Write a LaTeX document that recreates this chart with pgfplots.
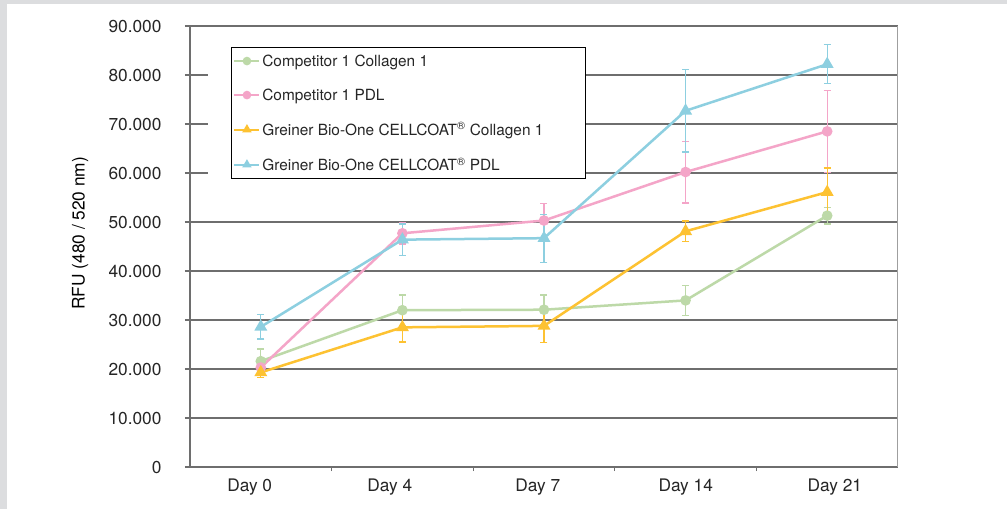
\documentclass[border=0pt]{standalone}
\usepackage{fontspec}
\setmainfont{TeX Gyre Heros}
\usepackage{pgfplots}
\pgfplotsset{compat=1.18}
\definecolor{cgreen}{HTML}{BDD9A8}
\definecolor{cpink}{HTML}{F4A5C8}
\definecolor{corange}{HTML}{FDC232}
\definecolor{cblue}{HTML}{8DCFE0}
\definecolor{gridc}{HTML}{6E6E6E}
\definecolor{bgc}{HTML}{DCDDDF}
\begin{document}
\begin{tikzpicture}
\useasboundingbox (-190pt,-42pt) rectangle (817pt,467pt);
\fill[bgc] (-190pt,-42pt) rectangle (817pt,467pt);
\fill[white] (-183pt,-42pt) rectangle (817pt,463pt);
\begin{axis}[
  scale only axis, width=708pt, height=441pt,
  xmin=-0.5, xmax=4.5, ymin=0, ymax=90000,
  axis x line*=bottom, axis y line*=left,
  axis line style={gridc, line width=1.1pt},
  xtick={-0.078,0.911,1.956,3.001,4.054},
  xticklabels={Day 0,Day 4,Day 7,Day 14,Day 21},
  major x tick style={draw=none},
  minor xtick={0.5,1.5,2.5,3.5},
  minor x tick style={gridc, line width=0.8pt},
  minor tick length=4pt,
  ytick={0,10000,...,90000},
  ymajorgrids,
  major grid style={gridc, line width=1.1pt},
  major y tick style={gridc, line width=1.1pt},
  tick align=outside, major tick length=5pt,
  scaled y ticks=false,
  /pgf/number format/.cd, 1000 sep={.}, assume math mode=true,
  /pgfplots/.cd,
  tick label style={font=\fontsize{17.3}{20}\selectfont, text=black!85},
  y tick label style={xshift=-20pt},
  x tick label style={yshift=-3pt},
  every axis y label/.style={at={(axis description cs:-0.155,0.53)}, rotate=90, anchor=center},
  ylabel={\fontsize{17.3}{20}\selectfont RFU (480 / 520 nm)},
  legend style={at={(axis description cs:0.0579,0.9524)}, anchor=north west,
    draw=black, line width=1.1pt, fill=white, font=\fontsize{15.4}{18}\selectfont,
    row sep=17pt, inner xsep=2pt, inner ysep=5pt, text=black!85},
  legend cell align=left,
  legend image code/.code={
    \draw[#1, line width=1.8pt, mark size=3pt] (0cm,0cm) -- (25pt,0cm);
    \draw[#1, mark repeat=1, mark phase=1, mark size=3pt] plot coordinates {(12.5pt,0cm)};
  },
  every axis plot/.append style={line width=2.5pt},
  error bars/error bar style={line width=1.3pt},
  error bars/error mark options={rotate=90, mark size=3.5pt, line width=1.3pt},
]
\fill[white] (axis description cs:0.0254,0.62) rectangle (axis description cs:0.558,0.975);
\draw[gray!75, line width=1.1pt] (axis description cs:1,0) -- (axis description cs:1,1);

\addplot[cgreen, mark=*, mark size=4pt, error bars/.cd, y dir=both, y explicit]
coordinates {(0,21600) +- (0,2500) (1,32000) +- (0,3100) (2,32100) +- (0,3000) (3,34000) +- (0,3050) (4,51300) +- (0,1700)};
\addlegendentry{Competitor 1 Collagen 1}
\addplot[cpink, mark=*, mark size=4pt, error bars/.cd, y dir=both, y explicit]
coordinates {(0,20300) +- (0,1000) (1,47700) +- (0,2200) (2,50300) +- (0,3500) (3,60200) +- (0,6300) (4,68500) +- (0,8400)};
\addlegendentry{Competitor 1 PDL}
\addplot[corange, mark=triangle*, mark size=5pt, error bars/.cd, y dir=both, y explicit]
coordinates {(0,19300) +- (0,1000) (1,28500) +- (0,3000) (2,28800) +- (0,3400) (3,48100) +- (0,2100) (4,56100) +- (0,4900)};
\addlegendentry{Greiner Bio-One CELLCOAT\textsuperscript{®} Collagen 1\hspace*{38pt}}
\addplot[cblue, mark=triangle*, mark size=5pt, error bars/.cd, y dir=both, y explicit]
coordinates {(0,28600) +- (0,2500) (1,46400) +- (0,3200) (2,46700) +- (0,4900) (3,72700) +- (0,8400) (4,82200) +- (0,4000)};
\addlegendentry{Greiner Bio-One CELLCOAT\textsuperscript{®} PDL}
\end{axis}
\end{tikzpicture}
\end{document}
